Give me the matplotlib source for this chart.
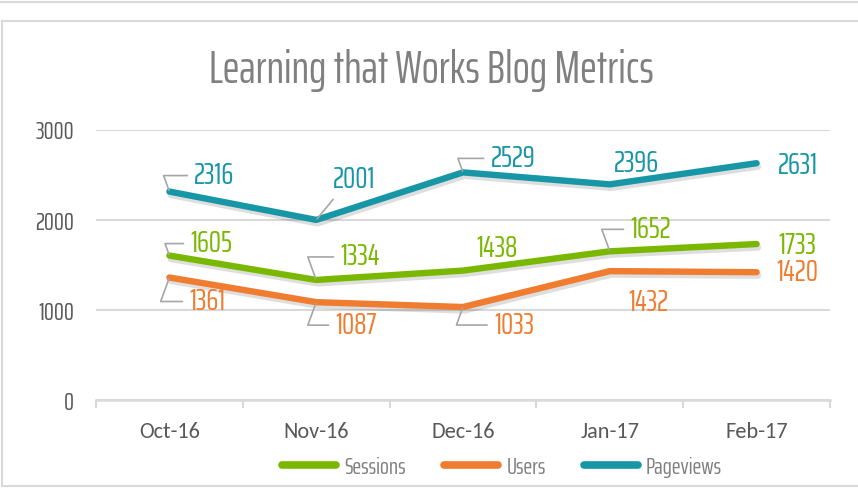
import matplotlib
matplotlib.use("Agg")
import matplotlib.pyplot as plt
import matplotlib.patheffects as pe
from matplotlib.lines import Line2D

# data
months = ["Oct-16", "Nov-16", "Dec-16", "Jan-17", "Feb-17"]
sessions = [1605, 1334, 1438, 1652, 1733]
users = [1361, 1087, 1033, 1432, 1420]
pageviews = [2316, 2001, 2529, 2396, 2631]

series = [
    ("Sessions", sessions, "#7AB800"),
    ("Users", users, "#F07C30"),
    ("Pageviews", pageviews, "#1797A6"),
]

# label offsets in pixels (dx, dy) and whether a leader line is drawn
label_pos = {
    "Sessions": [(42, 12, True), (44, 23, True), (34, 22, False), (41, 22, True), (41, -1, False)],
    "Users": [(38, -24, True), (40, -23, True), (51, -18, True), (39, -31, False), (41, 0, False)],
    "Pageviews": [(45, 16, True), (38, 40, True), (50, 14, True), (27, 21, False), (41, -2, False)],
}

cond = "Saira ExtraCondensed"
gray = "#808080"
grid = "#D9D9D9"

fig = plt.figure(figsize=(8.58, 4.92), dpi=100)
ax = fig.add_axes([96 / 858, 92 / 492, 734 / 858, 270 / 492])

x = range(len(months))
shadow = [pe.SimpleLineShadow(offset=(1, -2.5), shadow_color="black", alpha=0.13), pe.Normal()]
for name, vals, col in series:
    ax.plot(x, vals, color=col, lw=4.6, solid_capstyle="round", solid_joinstyle="round",
            label=name, path_effects=shadow, zorder=3)
    for i, v in enumerate(vals):
        dx, dy, leader = label_pos[name][i]
        arrow = None
        if leader:
            ang = 110 if dy > 0 else 250
            if name == "Pageviews" and i == 1:
                arrow = dict(arrowstyle="-", color="#A6A6A6", lw=1.2, shrinkA=2, shrinkB=1,
                             relpos=(0.1, 0.0))
            else:
                arrow = dict(arrowstyle="-", color="#A6A6A6", lw=1.2, shrinkA=3, shrinkB=1,
                             relpos=(0, 0.5), connectionstyle=f"angle,angleA=0,angleB={ang},rad=0")
        ax.annotate(str(v), (i, v), xytext=(dx, dy), textcoords="offset pixels",
                    ha="center", va="center", color=col, fontsize=22, family=cond,
                    arrowprops=arrow, zorder=4)

ax.set_xlim(-0.5, len(months) - 0.5)
ax.set_ylim(0, 3000)
ax.set_yticks([0, 1000, 2000, 3000])
ax.set_xticks(list(x))
ax.set_xticklabels(months, family="Carlito", fontsize=16, color="#595959")
ax.set_xticks([i - 0.5 for i in range(len(months) + 1)], minor=True)
ax.tick_params(axis="x", which="major", length=0, pad=16)
ax.tick_params(axis="x", which="minor", length=6, width=1.5, color=grid)
ax.tick_params(axis="y", length=0, pad=16)
for lab in ax.get_yticklabels():
    lab.set_family(cond)
    lab.set_fontsize(18)
    lab.set_color("#595959")
ax.yaxis.grid(True, color=grid, lw=1.5)
ax.set_axisbelow(True)
for s in ["left", "right", "top"]:
    ax.spines[s].set_visible(False)
ax.spines["bottom"].set_color(grid)
ax.spines["bottom"].set_linewidth(1.8)

fig.text(431 / 858, 1 - 70 / 492, "Learning that Works Blog Metrics", ha="center", va="center",
         family=cond, fontsize=32.5, color=gray)

leg = fig.legend(loc="center", bbox_to_anchor=(502 / 858, 1 - 467 / 492), ncol=3, frameon=False,
                 prop={"family": cond, "size": 17}, handlelength=2.3, handletextpad=0.35,
                 columnspacing=1.6)
for h in leg.get_lines():
    h.set_linewidth(5.5)
    h.set_solid_capstyle("round")
    h.set_path_effects([])
for t in leg.get_texts():
    t.set_color(gray)

# chart frame
fig.add_artist(Line2D([0, 1], [1 - 2 / 492, 1 - 2 / 492], color=grid, lw=1.5))
fig.add_artist(Line2D([2 / 858, 1], [1 - 21 / 492, 1 - 21 / 492], color=grid, lw=1.5))
fig.add_artist(Line2D([2 / 858, 2 / 858], [1 - 21 / 492, 1 - 486 / 492], color=grid, lw=1.5))
fig.add_artist(Line2D([2 / 858, 1], [1 - 486 / 492, 1 - 486 / 492], color=grid, lw=1.5))

fig.savefig("out.png", dpi=100)
